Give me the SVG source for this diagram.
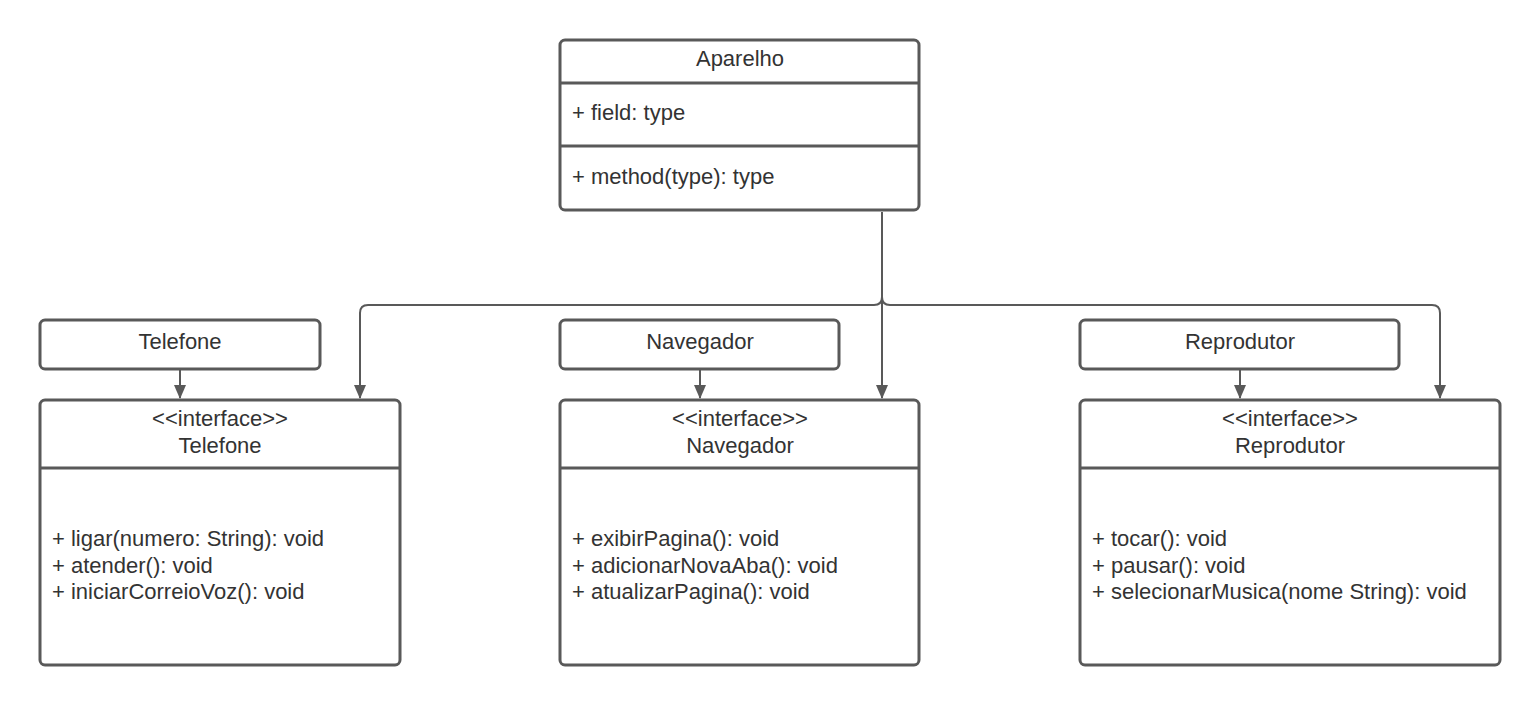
<svg xmlns="http://www.w3.org/2000/svg" width="1540" height="706" viewBox="0 0 1540 706">
<style>
.box{fill:#fff;stroke:#595959;stroke-width:3}
.div{stroke:#595959;stroke-width:3}
.t{font-family:"Liberation Sans",Arial,sans-serif;font-size:22px;fill:#333}
.c{text-anchor:middle}
.ln{fill:none;stroke:#595959;stroke-width:2}
</style>
<defs>
<marker id="ah" markerWidth="14" markerHeight="16" refX="13" refY="6" orient="auto" markerUnits="userSpaceOnUse">
<path d="M0,0 L14,6 L0,12 Z" fill="#595959"/>
</marker>
</defs>
<rect width="1540" height="706" fill="#fff"/>
<g id="connectors">
<path class="ln" d="M882,212 L882,398" marker-end="url(#ah)"/>
<path class="ln" d="M882,297 Q882,305 874,305 L368,305 Q360,305 360,313 L360,398" marker-end="url(#ah)"/>
<path class="ln" d="M882,297 Q882,305 890,305 L1432,305 Q1440,305 1440,313 L1440,398" marker-end="url(#ah)"/>
<path class="ln" d="M180,370 L180,398" marker-end="url(#ah)"/>
<path class="ln" d="M700,370 L700,398" marker-end="url(#ah)"/>
<path class="ln" d="M1240,370 L1240,398" marker-end="url(#ah)"/>
</g>
<g id="aparelho">
<rect class="box" x="560" y="40" width="359" height="170" rx="5"/>
<line class="div" x1="560" y1="83" x2="919" y2="83"/>
<line class="div" x1="560" y1="146" x2="919" y2="146"/>
<text class="t c" x="740" y="66">Aparelho</text>
<text class="t" x="572" y="120">+ field: type</text>
<text class="t" x="572" y="184">+ method(type): type</text>
</g>
<g id="telefone">
<rect class="box" x="40" y="320" width="280" height="49" rx="5"/>
<text class="t c" x="180" y="349">Telefone</text>
</g>
<g id="navegador">
<rect class="box" x="560" y="320" width="279" height="49" rx="5"/>
<text class="t c" x="700" y="349">Navegador</text>
</g>
<g id="reprodutor">
<rect class="box" x="1080" y="320" width="319" height="49" rx="5"/>
<text class="t c" x="1240" y="349">Reprodutor</text>
</g>
<g id="iTelefone">
<rect class="box" x="40" y="400" width="360" height="265" rx="5"/>
<line class="div" x1="40" y1="468" x2="400" y2="468"/>
<text class="t c" x="220" y="426">&lt;&lt;interface&gt;&gt;</text>
<text class="t c" x="220" y="453">Telefone</text>
<text class="t" x="52" y="546">+ ligar(numero: String): void</text>
<text class="t" x="52" y="573">+ atender(): void</text>
<text class="t" x="52" y="599">+ iniciarCorreioVoz(): void</text>
</g>
<g id="iNavegador">
<rect class="box" x="560" y="400" width="359" height="265" rx="5"/>
<line class="div" x1="560" y1="468" x2="919" y2="468"/>
<text class="t c" x="740" y="426">&lt;&lt;interface&gt;&gt;</text>
<text class="t c" x="740" y="453">Navegador</text>
<text class="t" x="572" y="546">+ exibirPagina(): void</text>
<text class="t" x="572" y="573">+ adicionarNovaAba(): void</text>
<text class="t" x="572" y="599">+ atualizarPagina(): void</text>
</g>
<g id="iReprodutor">
<rect class="box" x="1080" y="400" width="420" height="265" rx="5"/>
<line class="div" x1="1080" y1="468" x2="1500" y2="468"/>
<text class="t c" x="1290" y="426">&lt;&lt;interface&gt;&gt;</text>
<text class="t c" x="1290" y="453">Reprodutor</text>
<text class="t" x="1092" y="546">+ tocar(): void</text>
<text class="t" x="1092" y="573">+ pausar(): void</text>
<text class="t" x="1092" y="599">+ selecionarMusica(nome String): void</text>
</g>
</svg>
